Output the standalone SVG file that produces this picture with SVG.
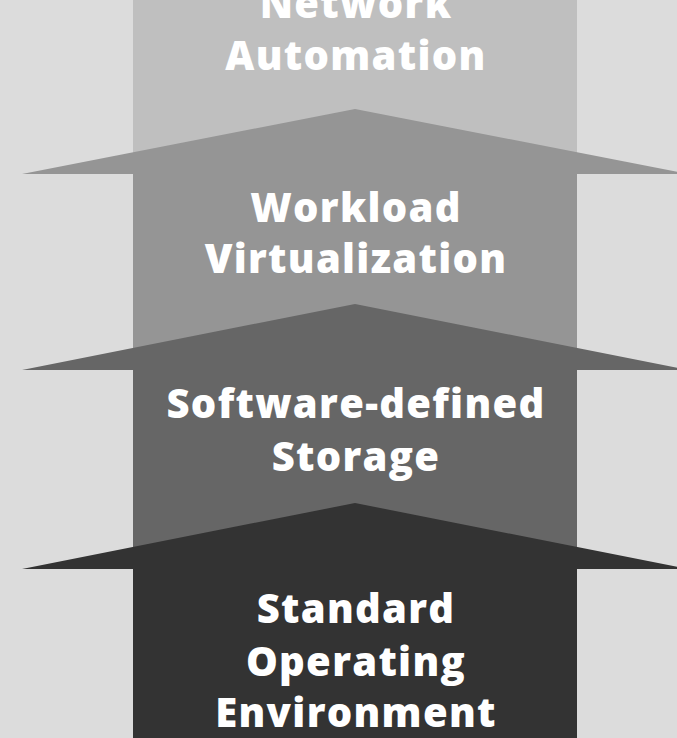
<svg xmlns="http://www.w3.org/2000/svg" width="677" height="738" viewBox="0 0 677 738">
<style>
.lbl{font-family:"Open Sans","Liberation Sans",sans-serif;font-weight:800;font-size:40px;letter-spacing:1.3px;fill:#ffffff;text-anchor:middle}
</style>
<rect x="0" y="0" width="677" height="738" fill="#dcdcdc"/>
<g id="network-automation">
<rect x="133" y="0" width="444" height="200" fill="#bfbfbf"/>
<text class="lbl" x="356" y="18">Network</text>
<text class="lbl" x="356" y="70">Automation</text>
</g>
<g id="workload-virtualization">
<polygon points="355,109 688,174 577,174 577,400 133,400 133,174 22,174" fill="#959595"/>
<text class="lbl" x="356" y="222">Workload</text>
<text class="lbl" x="356" y="273">Virtualization</text>
</g>
<g id="software-defined-storage">
<polygon points="355,304 688,370 577,370 577,600 133,600 133,370 22,370" fill="#666666"/>
<text class="lbl" x="356" y="418">Software-defined</text>
<text class="lbl" x="356" y="471">Storage</text>
</g>
<g id="standard-operating-environment">
<polygon points="355,503 688,569 577,569 577,738 133,738 133,569 22,569" fill="#333333"/>
<text class="lbl" x="356" y="623">Standard</text>
<text class="lbl" x="356" y="676">Operating</text>
<text class="lbl" x="356" y="727">Environment</text>
</g>
<g id="connectors"></g>
</svg>
